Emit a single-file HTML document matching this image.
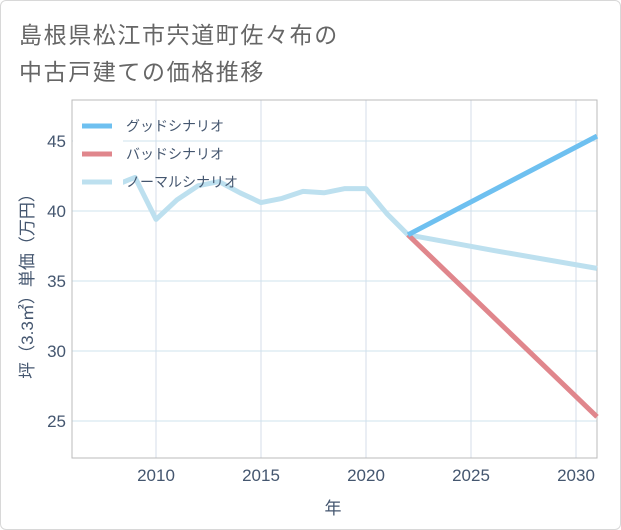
<!DOCTYPE html>
<html><head><meta charset="utf-8"><style>
body{margin:0;background:#fff;}
#wrap{position:relative;width:619px;height:528px;border:1px solid #d8d8d8;border-radius:6px;overflow:hidden;background:#fff;font-family:"Liberation Sans","Noto Sans CJK JP",sans-serif;}
.t{position:absolute;left:18px;font-size:23px;color:#666;letter-spacing:1.6px;white-space:nowrap;font-family:"Liberation Sans","Noto Sans CJK JP",sans-serif;}
</style></head><body>
<div id="wrap">
<div class="t" style="top:15px">島根県松江市宍道町佐々布の</div>
<div class="t" style="top:52px">中古戸建ての価格推移</div>
<svg id="c" width="621" height="530" style="position:absolute;left:-1px;top:-1px"></svg>
</div>
<script>
const xTicks=[2010,2015,2020,2025,2030];
const yTicks=[25,30,35,40,45];
const normalYears=[2008,2009,2010,2011,2012,2013,2014,2015,2016,2017,2018,2019,2020,2021,2022,2026,2031];
const normalVals=[41.8,42.4,39.4,40.8,41.8,42.1,41.3,40.6,40.9,41.4,41.3,41.6,41.6,39.8,38.3,37.2,35.9];
const goodYears=[2022,2031];
const goodVals=[38.3,45.35];
const badYears=[2022,2031];
const badVals=[38.3,25.3];
const ns='http://www.w3.org/2000/svg';
const svg=document.getElementById('c');
const L=72,R=597,T=100,B=458;
const X=y=>L+(y-2006)*(R-L)/25;
const Y=v=>141+(45-v)*14;
const LBL='#44566f';
function mk(tag,attrs){const e=document.createElementNS(ns,tag);for(const k in attrs)e.setAttribute(k,attrs[k]);svg.appendChild(e);return e;}
xTicks.forEach(t=>{
 const g=mk('line',{x1:X(t),x2:X(t),y1:T,y2:B,stroke:'#d5dde8','stroke-width':1});
 
 
 const tx=mk('text',{x:X(t),y:B+23,'text-anchor':'middle','font-size':17,fill:LBL});
 tx.textContent=t;
 
 
});
yTicks.forEach(t=>{
 const g=mk('line',{x1:L,x2:R,y1:Y(t),y2:Y(t),stroke:'#cfe3ee','stroke-width':1});
 
 
 const tx=mk('text',{x:L-6,y:Y(t)+6,'text-anchor':'end','font-size':17,fill:LBL});
 tx.textContent=t;
 
 
});
const ax=mk('rect',{x:L,y:T,width:R-L,height:B-T,fill:'none',stroke:'#bbb','stroke-width':1});


function line(ys,vs,color,name){
 const p=mk('polyline',{points:ys.map((y,i)=>X(y)+','+Y(vs[i])).join(' '),fill:'none',stroke:color,'stroke-width':5,'stroke-linejoin':'round'});
 
 
}
line(normalYears,normalVals,'#bde0ef','normal-scenario-line');
line(badYears,badVals,'#e0868c','bad-scenario-line');
line(goodYears,goodVals,'#6ec0f0','good-scenario-line');
const lb=mk('rect',{x:73,y:110,width:50,height:90,fill:'#fff'});


const leg=[['グッドシナリオ','#6ec0f0'],['バッドシナリオ','#e0868c'],['ノーマルシナリオ','#bde0ef']];
leg.forEach((l,i)=>{
 const y=126+i*28;
 const s=mk('line',{x1:82,x2:112,y1:y,y2:y,stroke:l[1],'stroke-width':5});
 
 
 const t=mk('text',{x:126,y:y+5,'font-size':14,fill:LBL});
 t.textContent=l[0];
 
 
});
const xt=mk('text',{x:333,y:514,'text-anchor':'middle','font-size':17,fill:LBL});
xt.textContent='年';


const yt=mk('text',{x:0,y:0,'text-anchor':'middle','font-size':17,fill:LBL,transform:'translate(33,282) rotate(-90)'});
yt.textContent='坪（3.3㎡）単価（万円）';


</script>
</body></html>
